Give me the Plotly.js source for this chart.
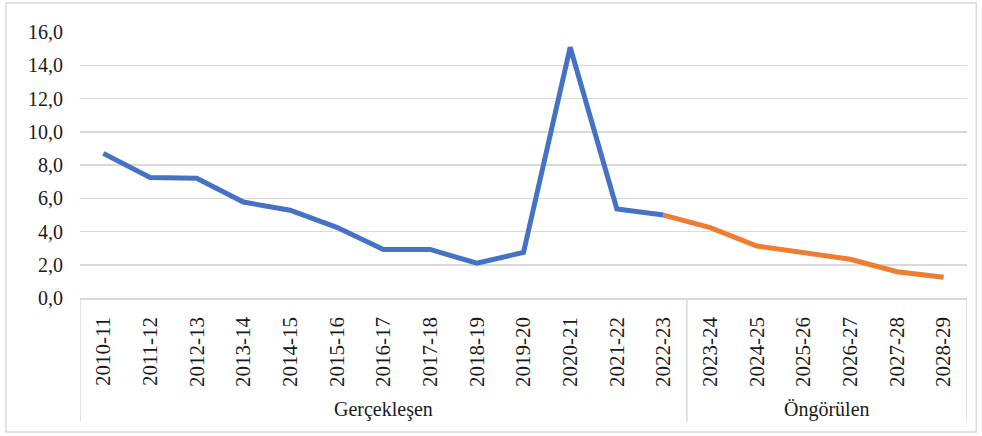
<!DOCTYPE html>
<html>
<head>
<meta charset="utf-8">
<script src="https://cdn.plot.ly/plotly-3.0.1.min.js"></script>
<style>
html,body{margin:0;padding:0;background:#fff;}
#chart{width:982px;height:436px;}
</style>
</head>
<body>
<div id="chart"></div>
<script>
const categories = ["2010-11","2011-12","2012-13","2013-14","2014-15","2015-16","2016-17","2017-18","2018-19","2019-20","2020-21","2021-22","2022-23","2023-24","2024-25","2025-26","2026-27","2027-28","2028-29"];
const actualCats = categories.slice(0, 13);
const actualValues = [8.7, 7.25, 7.2, 5.77, 5.28, 4.25, 2.92, 2.92, 2.09, 2.74, 15.08, 5.35, 4.99];
const forecastCats = categories.slice(12);
const forecastValues = [4.99, 4.23, 3.13, 2.74, 2.33, 1.58, 1.25];
const yTicks = [0,2,4,6,8,10,12,14,16];
const yTickText = ["0,0","2,0","4,0","6,0","8,0","10,0","12,0","14,0","16,0"];
const groupLabels = ["Gerçekleşen","Öngörülen"];

const L = 80, R = 966.7, T = 32, B = 298;
const W = R - L, H = B - T;
const px = v => (v - L) / W;
const py = v => (B - v) / H;
const FONT = '"Liberation Serif", "Times New Roman", serif';

const traces = [
  {x: actualCats, y: actualValues, type: 'scatter', mode: 'lines',
   line: {color: '#4472C4', width: 5}, hoverinfo: 'x+y'},
  {x: forecastCats, y: forecastValues, type: 'scatter', mode: 'lines',
   line: {color: '#ED7D31', width: 5}, hoverinfo: 'x+y'}
];

const grey = '#d9d9d9';
const shapes = [
  {type:'rect', xref:'paper', yref:'paper', x0:px(6), x1:px(976), y0:py(432), y1:py(3),
   line:{color:grey, width:1.5}, fillcolor:'rgba(0,0,0,0)', layer:'below'},
  {type:'line', xref:'x', yref:'paper', x0:-0.5, x1:-0.5, y0:0, y1:py(422), line:{color:grey, width:1.5}},
  {type:'line', xref:'x', yref:'paper', x0:12.5, x1:12.5, y0:0, y1:py(422), line:{color:grey, width:1.5}},
  {type:'line', xref:'x', yref:'paper', x0:18.5, x1:18.5, y0:0, y1:py(422), line:{color:grey, width:1.5}}
];

const annotations = [
  {text: groupLabels[0], xref:'x', yref:'paper', x:6, y:py(409), showarrow:false, yanchor:'middle',
   font:{family:FONT, size:20, color:'#1a1a1a'}},
  {text: groupLabels[1], xref:'x', yref:'paper', x:15.5, y:py(409), showarrow:false, yanchor:'middle',
   font:{family:FONT, size:20, color:'#1a1a1a'}}
];

const layout = {
  width: 982, height: 436,
  margin: {l: L, r: 982 - R, t: T, b: 436 - B, pad: 0},
  paper_bgcolor: '#fff', plot_bgcolor: '#fff',
  showlegend: false,
  font: {family: FONT, size: 20, color: '#1a1a1a'},
  xaxis: {
    type: 'category', categoryorder: 'array', categoryarray: categories,
    range: [-0.5, 18.5], tickangle: -90, showgrid: false, zeroline: false,
    showline: true, linecolor: grey, linewidth: 1.5,
    tickfont: {family: FONT, size: 21, color: '#1a1a1a'},
    ticks: '', ticklabelstandoff: 9, fixedrange: true
  },
  yaxis: {
    range: [0, 16], tickvals: yTicks, ticktext: yTickText,
    showgrid: true, gridcolor: grey, gridwidth: 1.5, zeroline: false,
    showline: false, ticks: '', ticklabelstandoff: 16, fixedrange: true
  },
  shapes: shapes,
  annotations: annotations
};

Plotly.newPlot('chart', traces, layout, {displayModeBar: false, staticPlot: true});
</script>
</body>
</html>
